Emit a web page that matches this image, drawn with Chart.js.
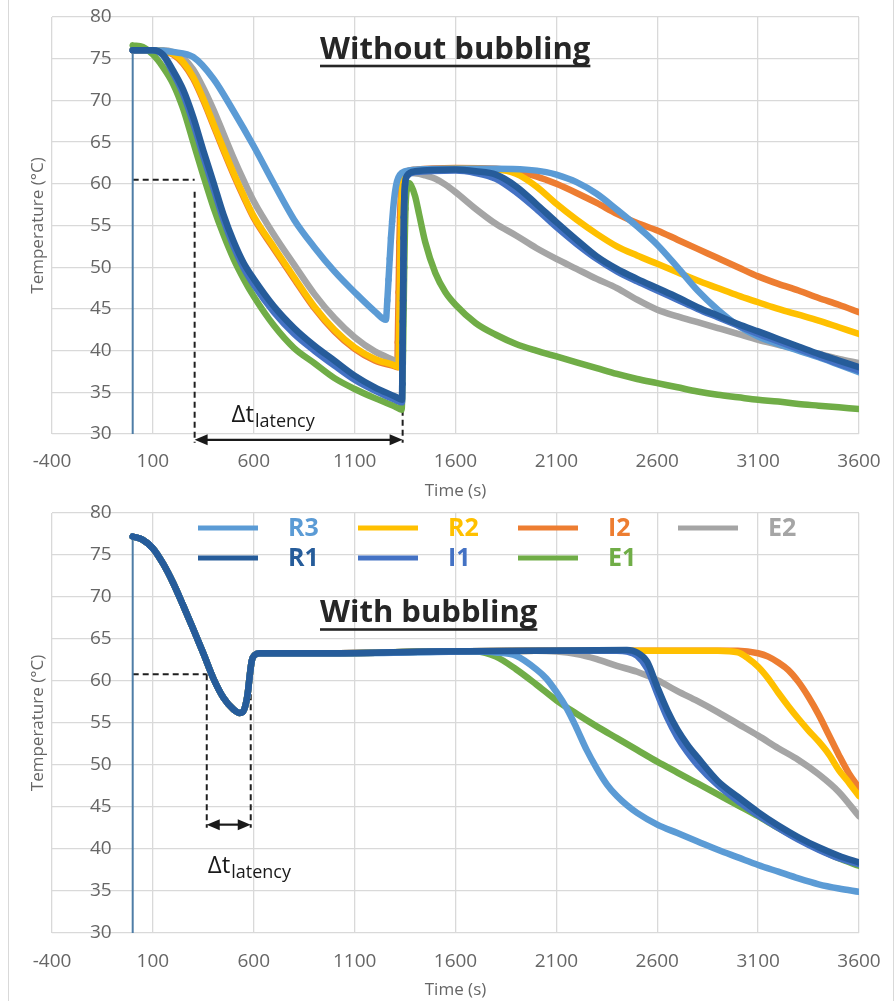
<!DOCTYPE html>
<html><head><meta charset="utf-8">
<script src="https://cdn.jsdelivr.net/npm/chart.js@4.4.1/dist/chart.umd.min.js"></script>
<style>
html,body{margin:0;padding:0;background:#fff;}
#wrap{position:relative;width:896px;height:1001px;overflow:hidden;background:#fff;}
canvas{position:absolute;left:0;}
#c1{top:0;} #c2{top:500px;}
</style></head><body>
<div id="wrap"><canvas id="c1" width="896" height="500"></canvas><canvas id="c2" width="896" height="501"></canvas></div>
<script>
// ---------- categories / ticks ----------
const seriesNames = ['R3','R2','I2','E2','R1','I1','E1'];
const xTickValues = [-400,100,600,1100,1600,2100,2600,3100,3600];
const yTickValues = [30,35,40,45,50,55,60,65,70,75,80];

// ---------- top chart: without bubbling  [time (s), temperature (°C)] ----------
const topR3 = [[0,76],[100,76],[200,75.8],[300,75.2],[400,72.6],[500,68.7],[600,64.5],[700,60],[800,55.7],[900,52.4],[1000,49.5],[1100,47],[1200,44.7],[1255,43.7],[1262,46],[1268,48.5],[1274,51],[1280,53.5],[1286,55.5],[1293,57.5],[1300,59],[1310,60.3],[1325,61.1],[1350,61.5],[1400,61.7],[1600,61.8],[1800,61.8],[1950,61.7],[2050,61.4],[2100,61.1],[2200,60.2],[2300,58.8],[2400,56.9],[2500,54.9],[2600,52.7],[2700,50],[2800,47.2],[2900,44.9],[3000,43],[3100,41.7],[3200,40.8],[3300,40],[3400,39.2],[3500,38.3],[3600,37.4]];
const topR2 = [[0,76],[100,76],[150,75.9],[200,75.6],[250,74.6],[300,72.8],[350,70.2],[400,67.2],[450,64.2],[500,61.3],[550,58.6],[600,56.1],[700,52.4],[800,48.8],[900,45.3],[1000,42.5],[1100,40.4],[1200,39],[1300,38.2],[1318,38],[1320,41],[1322,44],[1324,47],[1326,50],[1328,53],[1330,55.5],[1333,58],[1338,60],[1350,61.2],[1400,61.6],[1600,61.8],[1800,61.7],[1900,61.2],[2000,59.7],[2100,57.6],[2200,55.7],[2300,54],[2400,52.5],[2500,51.4],[2600,50.4],[2700,49.4],[2800,48.4],[2900,47.5],[3000,46.6],[3100,45.8],[3200,45],[3300,44.3],[3400,43.6],[3500,42.8],[3600,42]];
const topI2 = [[0,76],[100,76],[150,75.9],[200,75.5],[250,74.4],[300,72.6],[350,70],[400,67],[450,64],[500,61.1],[550,58.4],[600,55.9],[700,52.2],[800,48.6],[900,45.1],[1000,42.3],[1100,40.2],[1200,38.8],[1300,38.1],[1312,38],[1314,41],[1316,44],[1318,47],[1320,50],[1322,53],[1325,56],[1329,58.5],[1336,60.3],[1350,61.3],[1400,61.7],[1600,61.9],[1800,61.8],[1900,61.5],[2000,60.9],[2100,60],[2200,58.9],[2300,57.7],[2400,56.4],[2500,55.3],[2600,54.4],[2700,53.3],[2800,52.2],[2900,51.1],[3000,50],[3100,48.9],[3200,48],[3300,47.2],[3400,46.3],[3500,45.5],[3600,44.6]];
const topE2 = [[0,76],[100,76],[150,76],[200,75.8],[250,75.1],[300,73.7],[350,71.5],[400,68.9],[450,66],[500,63.1],[550,60.4],[600,57.9],[700,53.9],[800,50.3],[900,46.8],[1000,43.9],[1100,41.6],[1200,39.9],[1300,38.8],[1318,38.6],[1321,41.5],[1324,45],[1327,49],[1330,53],[1333,57],[1337,59.8],[1345,60.8],[1370,61.3],[1420,61.2],[1450,61],[1500,60.6],[1550,59.9],[1600,59],[1700,57],[1800,55.2],[1900,53.8],[2000,52.3],[2100,51],[2200,49.8],[2300,48.6],[2400,47.5],[2500,46.1],[2600,44.9],[2700,44.1],[2800,43.4],[2900,42.7],[3000,42],[3100,41.3],[3200,40.7],[3300,40.1],[3400,39.6],[3500,39],[3600,38.5]];
const topR1 = [[0,76],[100,76],[150,75.5],[200,73.6],[250,71.3],[300,68],[350,64],[400,60.2],[450,56.3],[500,53.1],[550,50.5],[600,48.6],[700,45.3],[800,42.7],[900,40.6],[1000,38.8],[1100,37],[1200,35.6],[1300,34.5],[1335,34.1],[1336,36],[1337,38.5],[1338,41],[1339,43.5],[1340,46],[1341,48.5],[1342,51],[1343,53.5],[1344,56],[1346,58.3],[1350,60],[1360,61],[1400,61.5],[1600,61.7],[1700,61.5],[1800,61.1],[1900,59.7],[2000,57.6],[2100,55.4],[2200,53.3],[2300,51.3],[2400,49.8],[2500,48.6],[2600,47.5],[2700,46.4],[2800,45.2],[2900,44.2],[3000,43.2],[3100,42.3],[3200,41.4],[3300,40.5],[3400,39.6],[3500,38.8],[3600,38]];
const topI1 = [[0,76],[100,76],[150,75.4],[200,73.3],[250,70.8],[300,67.3],[350,63.3],[400,59.5],[450,55.7],[500,52.5],[550,49.9],[600,47.9],[700,44.6],[800,42],[900,40],[1000,38.2],[1100,36.5],[1200,35.2],[1300,34.1],[1335,33.8],[1336,36],[1337,38.5],[1338,41],[1339,43.5],[1340,46],[1341,48.5],[1342,51],[1343,53.5],[1344,56],[1346,58.2],[1350,59.9],[1360,60.9],[1400,61.4],[1600,61.6],[1700,61.3],[1800,60.6],[1900,59],[2000,57],[2100,54.8],[2200,52.8],[2300,51],[2400,49.5],[2500,48.3],[2600,47.2],[2700,46.1],[2800,45],[2900,44],[3000,43],[3100,42],[3200,41.1],[3300,40.2],[3400,39.3],[3500,38.4],[3600,37.6]];
const topE1 = [[0,76.6],[50,76.4],[100,75.5],[150,74],[200,72],[250,69],[300,65],[350,61],[400,57.2],[450,53.9],[500,51],[550,48.6],[600,46.5],[700,43],[800,40.3],[900,38.5],[1000,36.7],[1100,35.4],[1200,34.3],[1300,33.3],[1333,32.9],[1337,36],[1340,40],[1343,45],[1346,50],[1349,54],[1352,57],[1358,59.3],[1368,60.1],[1380,59.8],[1400,58.5],[1420,56.3],[1450,53],[1500,49.3],[1550,47],[1600,45.5],[1700,43.3],[1800,41.9],[1900,40.8],[2000,40],[2100,39.3],[2200,38.6],[2300,37.9],[2400,37.2],[2500,36.6],[2600,36.1],[2700,35.6],[2800,35.1],[2900,34.7],[3000,34.4],[3100,34.1],[3200,33.9],[3300,33.6],[3400,33.4],[3500,33.2],[3600,33]];
const topStub = [[0,30],[0,76]];

// ---------- bottom chart: with bubbling ----------
const bottomDescent = [[0,77.2],[50,76.8],[100,75.8],[150,74],[200,71.7],[250,69],[300,66.2],[350,63.3],[400,60.3],[450,58],[500,56.6],[530,56.2],[545,56.3],[560,57.2],[570,58.5],[580,60.6],[590,62.4],[605,63.1],[630,63.3],[1000,63.3]];
const bottomR3 = [[1400,63.4],[1700,63.5],[1800,63.4],[1900,63],[2000,61.4],[2050,60.3],[2100,58.7],[2150,56.8],[2200,54.4],[2250,51.8],[2300,49.6],[2350,47.7],[2400,46.3],[2450,45.2],[2500,44.3],[2600,42.9],[2700,41.9],[2800,40.9],[2900,39.9],[3000,39],[3100,38.1],[3200,37.3],[3300,36.5],[3400,35.8],[3500,35.3],[3600,34.9]];
const bottomR2 = [[1500,63.5],[2000,63.6],[2500,63.6],[2900,63.6],[3000,63.4],[3050,62.7],[3100,61.7],[3150,60.3],[3200,58.6],[3250,57],[3300,55.5],[3350,54.1],[3400,52.8],[3450,51.3],[3500,49.4],[3550,47.9],[3600,46.3]];
const bottomI2 = [[1500,63.5],[2000,63.6],[2500,63.6],[3000,63.6],[3100,63.3],[3150,62.9],[3200,62.2],[3250,61.3],[3300,59.9],[3350,58.1],[3400,56],[3450,53.6],[3500,51.2],[3550,49],[3600,47.3]];
const bottomE2 = [[1500,63.5],[2000,63.6],[2100,63.5],[2200,63.2],[2300,62.6],[2400,61.8],[2500,61.1],[2600,60.1],[2700,58.8],[2800,57.6],[2900,56.3],[3000,54.9],[3100,53.5],[3200,52],[3300,50.6],[3400,48.9],[3500,46.8],[3600,43.9]];
const bottomR1 = [[1500,63.5],[2000,63.6],[2450,63.7],[2500,63.4],[2550,62.3],[2600,59.3],[2650,56.5],[2700,54.2],[2750,52.4],[2800,50.9],[2900,48.1],[3000,46.2],[3100,44.4],[3200,42.8],[3300,41.4],[3400,40.2],[3500,39.2],[3600,38.4]];
const bottomI1 = [[1500,63.5],[2000,63.6],[2400,63.6],[2450,63.5],[2500,63],[2550,61.5],[2600,58.5],[2650,55.6],[2700,53.3],[2750,51.5],[2800,50],[2900,47.6],[3000,45.7],[3100,44],[3200,42.5],[3300,41.1],[3400,39.9],[3500,38.9],[3600,38.2]];
const bottomE1 = [[1500,63.5],[1700,63.5],[1800,62.9],[1900,61.4],[2000,59.6],[2100,57.7],[2200,56.1],[2300,54.6],[2400,53.2],[2500,51.8],[2600,50.4],[2700,49.1],[2800,47.8],[2900,46.5],[3000,45.2],[3100,43.9],[3200,42.5],[3300,41.2],[3400,40],[3500,38.9],[3600,38]];
const bottomStub = [[0,30],[0,77.2]];

// ---------- annotations (data coordinates) ----------
const latencyTopTimes = [307, 1338];
const latencyTopLevels = [60.5, 29.3];     // dashed level, arrow level
const latencyTopLabel = [490, 31.4];
const latencyBottomTimes = [367, 585];
const latencyBottomLevels = [60.8, 42.9];
const latencyBottomLabel = [372, 37.1];

// ---------- styles ----------
const COLORS = {R3:'#5B9BD5', R2:'#FFC000', I2:'#ED7D31', E2:'#A5A5A5', R1:'#265C9A', I1:'#4472C4', E1:'#70AD47'};
const TOP_ORDER = {R1:0, I1:1, E1:2, R3:3, R2:4, E2:5, I2:6};
const BOTTOM_ORDER = {R1:0, I1:1, R3:2, E1:3, R2:4, I2:5, E2:6};
const FONT = '"Open Sans", "Noto Sans", sans-serif';

function toXY(arr){ return arr.map(p => ({x:p[0], y:p[1]})); }
function steepRadius(ctx){
  const d = ctx.dataset.data, i = ctx.dataIndex;
  if (!d || i === 0) return 0;
  const a = d[i-1], b = d[i];
  const s = Math.abs(b.y - a.y) / Math.max(1, b.x - a.x);
  return s > 0.3 ? 3.2 : 0;
}
function makeDatasets(list, order, markers, stub){
  const ds = seriesNames.map((name, i) => ({
    label: name, data: toXY(list[i]),
    borderColor: COLORS[name], backgroundColor: COLORS[name],
    borderWidth: 6.5, pointRadius: markers ? steepRadius : 0, pointHoverRadius: 0,
    pointBorderWidth: 0, cubicInterpolationMode: 'monotone',
    borderCapStyle: 'round', borderJoinStyle: 'round', order: order[name]
  }));
  ds.push({label:'', isStub:true, data: toXY(stub), borderColor:'#4E7DA6', backgroundColor:'#4E7DA6',
           borderWidth: 2, pointRadius: 0, pointHoverRadius: 0, order: 20});
  return ds;
}

function decor(cfg){
  return {
    id: 'decor_' + cfg.name,
    beforeDraw(chart){
      const ctx = chart.ctx, H = chart.height;
      ctx.save(); ctx.strokeStyle = '#d9d9d9'; ctx.lineWidth = 1;
      ctx.beginPath(); ctx.moveTo(8.5,0); ctx.lineTo(8.5,H); ctx.moveTo(893.5,0); ctx.lineTo(893.5,H); ctx.stroke();
      ctx.restore();
    },
    beforeDatasetsDraw(chart){
      const {ctx, scales:{x, y}} = chart;
      const [t1, t2] = cfg.times, [lvl, arr] = cfg.levels;
      const px0 = x.getPixelForValue(0), p1 = x.getPixelForValue(t1), p2 = x.getPixelForValue(t2);
      const yl = y.getPixelForValue(lvl), ya = y.getPixelForValue(arr);
      ctx.save(); ctx.strokeStyle = '#1f1f1f'; ctx.lineWidth = 2; ctx.setLineDash([6,4]);
      ctx.beginPath();
      ctx.moveTo(px0, yl); ctx.lineTo(p1, yl);
      ctx.moveTo(p1, yl + cfg.vGap); ctx.lineTo(p1, ya + 3);
      ctx.moveTo(p2, yl); ctx.lineTo(p2, ya + 3);
      ctx.stroke(); ctx.restore();
    },
    afterDatasetsDraw(chart){
      const {ctx, scales:{x, y}, chartArea} = chart;
      const [t1, t2] = cfg.times, arr = cfg.levels[1];
      const p1 = x.getPixelForValue(t1), p2 = x.getPixelForValue(t2), ya = y.getPixelForValue(arr);
      ctx.save();
      ctx.strokeStyle = ctx.fillStyle = '#1a1a1a'; ctx.lineWidth = 2.2;
      ctx.beginPath(); ctx.moveTo(p1 + 8, ya); ctx.lineTo(p2 - 8, ya); ctx.stroke();
      ctx.beginPath(); ctx.moveTo(p1, ya); ctx.lineTo(p1 + 13, ya - 5.5); ctx.lineTo(p1 + 13, ya + 5.5); ctx.closePath(); ctx.fill();
      ctx.beginPath(); ctx.moveTo(p2, ya); ctx.lineTo(p2 - 13, ya - 5.5); ctx.lineTo(p2 - 13, ya + 5.5); ctx.closePath(); ctx.fill();
      // Δt latency label
      const lx = x.getPixelForValue(cfg.label[0]), ly = y.getPixelForValue(cfg.label[1]);
      ctx.textAlign = 'left'; ctx.textBaseline = 'alphabetic';
      ctx.font = '24px ' + FONT; ctx.fillText('Δt', lx, ly);
      const w = ctx.measureText('Δt').width;
      ctx.font = '18px ' + FONT; ctx.fillText('latency', lx + w + 1, ly + 5);
      // title
      ctx.font = 'bold 31px ' + FONT; ctx.fillStyle = '#262626';
      const tx = chartArea.left + 268, ty = y.getPixelForValue(cfg.titleLevel);
      ctx.fillText(cfg.title, tx, ty);
      const tw = ctx.measureText(cfg.title).width;
      ctx.fillRect(tx, ty + 6, tw, 2.6);
      // legend
      if (cfg.legend){
        const items = chart.data.datasets.filter(d => !d.isStub);
        ctx.font = 'bold 25px ' + FONT; ctx.textBaseline = 'middle';
        items.forEach((d, i) => {
          const col = i % 4, row = Math.floor(i / 4);
          const x0 = chartArea.left + 146 + col * 160, yy = chartArea.top + 15 + row * 30;
          ctx.strokeStyle = d.borderColor; ctx.lineWidth = 5; ctx.lineCap = 'butt';
          ctx.beginPath(); ctx.moveTo(x0, yy); ctx.lineTo(x0 + 60, yy); ctx.stroke();
          ctx.fillStyle = d.borderColor; ctx.fillText(d.label, x0 + 90, yy + 1);
        });
      }
      ctx.restore();
    }
  };
}

function makeOptions(c){
  return {
    responsive:false, animation:false, devicePixelRatio:1,
    layout:{padding:{left:8, right:37, top:c.padTop, bottom:0}},
    plugins:{legend:{display:false}, tooltip:{enabled:false}},
    scales:{
      x:{type:'linear', min:-400, max:3600,
        afterBuildTicks: s => { s.ticks = xTickValues.map(v => ({value:v})); },
        afterFit: s => { s.height = c.xHeight; s.paddingLeft = 0; s.paddingRight = 0; },
        grid:{color:'#d9d9d9', lineWidth:1.3, drawTicks:false},
        border:{display:false},
        ticks:{color:'#666666', font:{family:FONT, size:19}, padding:c.xTickPad, maxRotation:0, autoSkip:false, callback: v => String(v)},
        title:{display:true, text:'Time (s)', color:'#666666', font:{family:FONT, size:17, lineHeight:1}, padding:{top:0, bottom:c.xTitlePad}}
      },
      y:{type:'linear', min:30, max:80,
        afterBuildTicks: s => { s.ticks = yTickValues.map(v => ({value:v})); },
        afterFit: s => { s.width = 44; s.paddingTop = 0; s.paddingBottom = 0; },
        grid:{color:'#d9d9d9', lineWidth:1.3, drawTicks:false},
        border:{display:false},
        ticks:{mirror:true, padding:38, color:'#666666', font:{family:FONT, size:19}, callback: v => String(v)},
        title:{display:true, text:'Temperature (°C)', color:'#666666', font:{family:FONT, size:17}, padding:{top:20, bottom:0}}
      }
    }
  };
}

function build(){
  const topData = [topR3, topR2, topI2, topE2, topR1, topI1, topE1];
  const bottomTails = [bottomR3, bottomR2, bottomI2, bottomE2, bottomR1, bottomI1, bottomE1];
  const bottomData = bottomTails.map(t => bottomDescent.concat(t));

  new Chart(document.getElementById('c1'), {
    type:'line',
    data:{datasets: makeDatasets(topData, TOP_ORDER, true, topStub)},
    options: makeOptions({padTop:17, xHeight:66, xTickPad:16.6, xTitlePad:0.5}),
    plugins:[decor({name:'top', times:latencyTopTimes, levels:latencyTopLevels, label:latencyTopLabel,
      title:'Without bubbling', titleLevel:75, legend:false, vGap:12})]
  });
  new Chart(document.getElementById('c2'), {
    type:'line',
    data:{datasets: makeDatasets(bottomData, BOTTOM_ORDER, false, bottomStub)},
    options: makeOptions({padTop:13, xHeight:68, xTickPad:17.6, xTitlePad:2.5}),
    plugins:[decor({name:'bottom', times:latencyBottomTimes, levels:latencyBottomLevels, label:latencyBottomLabel,
      title:'With bubbling', titleLevel:67, legend:true, vGap:0})]
  });
}

const fontLoads = ['19px "Open Sans"', 'bold 31px "Open Sans"', 'bold 25px "Open Sans"'].map(f => document.fonts ? document.fonts.load(f) : Promise.resolve());
Promise.race([Promise.all(fontLoads), new Promise(r => setTimeout(r, 800))]).then(build, build);
</script>
</body></html>
